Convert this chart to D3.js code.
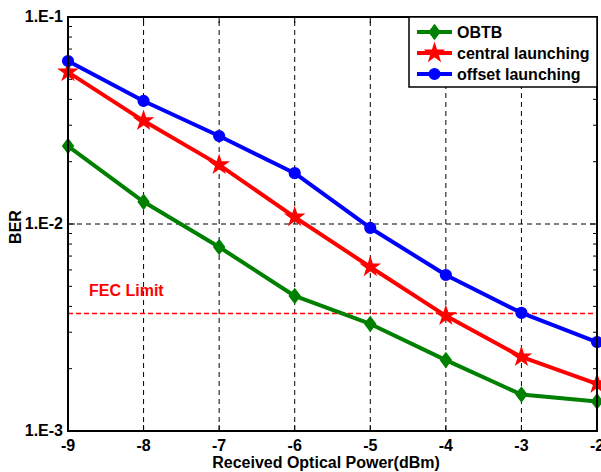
<!DOCTYPE html>
<html>
<head>
<meta charset="utf-8">
<script src="https://cdn.jsdelivr.net/npm/d3@7"></script>
<style>
  body { margin: 0; background: #fff; }
  text { font-family: "Liberation Sans", Arial, sans-serif; font-weight: bold; }
</style>
</head>
<body>
<div id="chartContainer"></div>
<script>
// chart data
const powers = [-9, -8, -7, -6, -5, -4, -3, -2];
const obtb = [0.0238, 0.0128, 0.00774, 0.00449, 0.00329, 0.0022, 0.0015, 0.00139];
const central = [0.0542, 0.0315, 0.0193, 0.0108, 0.0062, 0.0036, 0.00228, 0.00169];
const offset = [0.0613, 0.0393, 0.0266, 0.0176, 0.00957, 0.00567, 0.00372, 0.00269];
const fecLimit = 0.0037;
const yTicks = [1e-3, 1e-2, 1e-1];
const yTickLabels = ["1.E-3", "1.E-2", "1.E-1"];
const seriesNames = ["OBTB", "central launching", "offset launching"];

const width = 601, height = 472;
const margin = { top: 17, right: 4, bottom: 41, left: 68 };

const svg = d3.select("#chartContainer")
  .append("svg")
  .attr("width", width)
  .attr("height", height);

const x = d3.scaleLinear()
  .domain([-9, -2])
  .range([margin.left, width - margin.right]);

const y = d3.scaleLog()
  .domain([1e-3, 1e-1])
  .range([height - margin.bottom, margin.top]);

const x0 = margin.left, x1 = width - margin.right;
const y0 = height - margin.bottom, y1 = margin.top;

// wider diamond than d3's default one
const fatDiamond = {
  draw(context, size) {
    const h = Math.sqrt(size / 1.5);
    const w = h * 0.75;
    context.moveTo(0, -h);
    context.lineTo(w, 0);
    context.lineTo(0, h);
    context.lineTo(-w, 0);
    context.closePath();
  }
};

// grid lines (dashed)
svg.append("g")
  .selectAll("line")
  .data(powers.slice(1, -1))
  .enter().append("line")
  .attr("x1", d => x(d)).attr("x2", d => x(d))
  .attr("y1", y0).attr("y2", y1)
  .attr("stroke", "#000").attr("stroke-width", 1)
  .attr("stroke-dasharray", "5,4");

svg.append("line")
  .attr("x1", x0).attr("x2", x1)
  .attr("y1", y(1e-2)).attr("y2", y(1e-2))
  .attr("stroke", "#000").attr("stroke-width", 1)
  .attr("stroke-dasharray", "5,4");

// minor log ticks on left and right
const minor = [];
for (let e = -3; e < -1; e++) {
  for (let m = 2; m <= 9; m++) minor.push(m * Math.pow(10, e));
}
const tickG = svg.append("g").attr("stroke", "#000").attr("stroke-width", 1);
minor.forEach(v => {
  tickG.append("line").attr("x1", x0).attr("x2", x0 + 4).attr("y1", y(v)).attr("y2", y(v));
  tickG.append("line").attr("x1", x1).attr("x2", x1 - 4).attr("y1", y(v)).attr("y2", y(v));
});
yTicks.forEach(v => {
  tickG.append("line").attr("x1", x0).attr("x2", x0 + 7).attr("y1", y(v)).attr("y2", y(v));
  tickG.append("line").attr("x1", x1).attr("x2", x1 - 7).attr("y1", y(v)).attr("y2", y(v));
});
powers.forEach(v => {
  tickG.append("line").attr("x1", x(v)).attr("x2", x(v)).attr("y1", y0).attr("y2", y0 - 6);
  tickG.append("line").attr("x1", x(v)).attr("x2", x(v)).attr("y1", y1).attr("y2", y1 + 6);
});

// FEC limit line
svg.append("line")
  .attr("x1", x0).attr("x2", x1)
  .attr("y1", y(fecLimit)).attr("y2", y(fecLimit))
  .attr("stroke", "#ff0000").attr("stroke-width", 1.5)
  .attr("stroke-dasharray", "5,3");

svg.append("text")
  .attr("x", x0 + 21).attr("y", y(fecLimit) - 17)
  .attr("fill", "#ff0000").attr("font-size", 16)
  .text("FEC Limit");

// series
const series = [
  { name: seriesNames[0], values: obtb, color: "#008000", symbol: fatDiamond, size: 75 },
  { name: seriesNames[1], values: central, color: "#ff0000", symbol: d3.symbolStar, size: 90 },
  { name: seriesNames[2], values: offset, color: "#0000ff", symbol: d3.symbolCircle, size: 90 }
];

const line = d3.line()
  .x((d, i) => x(powers[i]))
  .y(d => y(d));

series.forEach(s => {
  svg.append("path")
    .datum(s.values)
    .attr("fill", "none")
    .attr("stroke", s.color)
    .attr("stroke-width", 4)
    .attr("stroke-linejoin", "round")
    .attr("d", line);

  svg.selectAll(null)
    .data(s.values)
    .enter().append("path")
    .attr("transform", (d, i) => `translate(${x(powers[i])},${y(d)})`)
    .attr("d", d3.symbol().type(s.symbol).size(s.size))
    .attr("fill", s.color)
    .attr("stroke", s.color)
    .attr("stroke-width", 1.5);
});

// axes box
svg.append("rect")
  .attr("x", x0).attr("y", y1)
  .attr("width", x1 - x0).attr("height", y0 - y1)
  .attr("fill", "none").attr("stroke", "#000").attr("stroke-width", 2);

// tick labels
svg.append("g")
  .selectAll("text")
  .data(powers)
  .enter().append("text")
  .attr("x", d => x(d)).attr("y", y0 + 20)
  .attr("text-anchor", "middle")
  .attr("font-size", 16)
  .text(d => d);

svg.append("g")
  .selectAll("text")
  .data(yTicks)
  .enter().append("text")
  .attr("x", x0 - 5).attr("y", d => y(d) + 5)
  .attr("text-anchor", "end")
  .attr("font-size", 16)
  .text((d, i) => yTickLabels[i]);

// axis titles
svg.append("text")
  .attr("x", 326).attr("y", 468)
  .attr("text-anchor", "middle")
  .attr("font-size", 16)
  .text("Received Optical Power(dBm)");

svg.append("text")
  .attr("transform", `translate(21, ${y(1e-2) + 3}) rotate(-90)`)
  .attr("text-anchor", "middle")
  .attr("font-size", 16)
  .text("BER");

// legend
const lg = svg.append("g");
lg.append("rect")
  .attr("x", 409).attr("y", y1)
  .attr("width", x1 - 409).attr("height", 70)
  .attr("fill", "#fff").attr("stroke", "#000").attr("stroke-width", 1.5);

series.forEach((s, i) => {
  const ly = 32 + i * 21;
  lg.append("line")
    .attr("x1", 417).attr("x2", 452)
    .attr("y1", ly).attr("y2", ly)
    .attr("stroke", s.color).attr("stroke-width", 4);
  lg.append("path")
    .attr("transform", `translate(434.5,${ly})`)
    .attr("d", d3.symbol().type(s.symbol).size(s.size))
    .attr("fill", s.color)
    .attr("stroke", s.color)
    .attr("stroke-width", 1.5);
  lg.append("text")
    .attr("x", 457).attr("y", ly + 6)
    .attr("font-size", 16)
    .text(s.name);
});
</script>
</body>
</html>
